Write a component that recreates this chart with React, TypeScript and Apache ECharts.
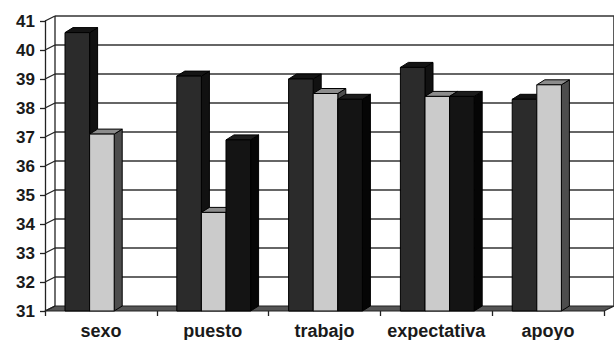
import React, { useEffect, useRef } from "react";
import * as echarts from "echarts";

const categories = ["sexo", "puesto", "trabajo", "expectativa", "apoyo"];
const series1 = [40.6, 39.1, 39.0, 39.4, 38.3];
const series2 = [37.1, 34.4, 38.5, 38.4, 38.8];
const series3: (number | null)[] = [null, 36.9, 38.3, 38.4, null];
const yMin = 31;
const yMax = 41;

const faceColors = [
  { front: "#2b2b2b", top: "#141414", side: "#111111" },
  { front: "#cbcbcb", top: "#8c8c8c", side: "#4d4d4d" },
  { front: "#141414", top: "#1c1c1c", side: "#050505" },
];

const WALL_DX = 10;
const WALL_DY = -5;
const BAR_DX = 8;
const BAR_DY = -5;

export default function App() {
  const ref = useRef<HTMLDivElement>(null);
  useEffect(() => {
    if (!ref.current) return;
    const chart = echarts.init(ref.current, undefined, { renderer: "svg" });

    const bgRender = (params: any, api: any) => {
      const cs = params.coordSys;
      const x0 = cs.x;
      const x1 = cs.x + cs.width;
      const children: any[] = [];
      const yBase = api.coord([0, yMin])[1];
      children.push({
        type: "polygon",
        shape: {
          points: [
            [x0, yBase],
            [x1, yBase],
            [x1 + WALL_DX, yBase + WALL_DY],
            [x0 + WALL_DX, yBase + WALL_DY],
          ],
        },
        style: { fill: "#555555", stroke: "#222222", lineWidth: 1.2 },
      });
      for (let v = yMin; v <= yMax; v++) {
        const y = api.coord([0, v])[1];
        if (v > yMin) {
          children.push({
            type: "line",
            shape: { x1: x0 + WALL_DX, y1: y + WALL_DY, x2: x1 + WALL_DX, y2: y + WALL_DY },
            style: { stroke: "#333333", lineWidth: 1.6 },
          });
        }
        children.push({
          type: "line",
          shape: { x1: x0, y1: y, x2: x0 + WALL_DX, y2: y + WALL_DY },
          style: { stroke: "#222222", lineWidth: 1.3 },
        });
      }
      const yTop = api.coord([0, yMax])[1];
      children.push({
        type: "line",
        shape: { x1: x0 + WALL_DX, y1: yBase + WALL_DY, x2: x0 + WALL_DX, y2: yTop + WALL_DY },
        style: { stroke: "#222222", lineWidth: 1.3 },
      });
      children.push({
        type: "line",
        shape: { x1: x1 + WALL_DX, y1: yBase + WALL_DY, x2: x1 + WALL_DX, y2: yTop + WALL_DY },
        style: { stroke: "#333333", lineWidth: 1.6 },
      });
      return { type: "group", children };
    };

    const barRender = (sIdx: number) => (params: any, api: any) => {
      const idx = api.value(0);
      const val = api.value(1);
      if (val == null || isNaN(val)) return { type: "group", children: [] };
      const band = api.size([1, 0])[0];
      const w = band * 0.22;
      const c = api.coord([idx, val]);
      const base = api.coord([idx, yMin]);
      const xl = c[0] + (sIdx - 1.5) * w + 1;
      const xr = xl + w;
      const yt = c[1];
      const yb = base[1];
      const col = faceColors[sIdx];
      return {
        type: "group",
        children: [
          {
            type: "polygon",
            shape: { points: [[xr, yt], [xr + BAR_DX, yt + BAR_DY], [xr + BAR_DX, yb + BAR_DY], [xr, yb]] },
            style: { fill: col.side, stroke: "#000", lineWidth: 1 },
          },
          {
            type: "polygon",
            shape: { points: [[xl, yt], [xl + BAR_DX, yt + BAR_DY], [xr + BAR_DX, yt + BAR_DY], [xr, yt]] },
            style: { fill: col.top, stroke: "#000", lineWidth: 1 },
          },
          {
            type: "rect",
            shape: { x: xl, y: yt, width: w, height: yb - yt },
            style: { fill: col.front, stroke: "#000", lineWidth: 1 },
          },
        ],
      };
    };

    const mk = (arr: (number | null)[]) => arr.map((v, i) => [i, v == null ? NaN : v]);

    chart.setOption({
      animation: false,
      backgroundColor: "#ffffff",
      grid: { left: 45, right: 10, top: 21, bottom: 29, containLabel: false },
      xAxis: {
        type: "category",
        data: categories,
        axisLine: { show: false },
        axisTick: { show: true, length: 5, interval: 0, lineStyle: { color: "#222", width: 1.3 } },
        axisLabel: {
          interval: 0,
          hideOverlap: false,
          margin: 11,
          fontSize: 18,
          fontWeight: "bold",
          fontFamily: "Liberation Sans, Arial, sans-serif",
          color: "#1a1a1a",
        },
        splitLine: { show: false },
      },
      yAxis: {
        type: "value",
        min: yMin,
        max: yMax,
        interval: 1,
        axisLine: { show: true, lineStyle: { color: "#222", width: 1.3 } },
        axisTick: { show: true, length: 5, lineStyle: { color: "#222", width: 1.3 } },
        axisLabel: {
          margin: 10,
          fontSize: 17,
          fontWeight: "bold",
          fontFamily: "Liberation Sans, Arial, sans-serif",
          color: "#1a1a1a",
        },
        splitLine: { show: false },
      },
      series: [
        {
          type: "custom",
          renderItem: bgRender,
          data: [[0, yMin]],
          clip: false,
          silent: true,
          z: 1,
        },
        { type: "custom", renderItem: barRender(0), data: mk(series1), encode: { x: 0, y: 1 }, clip: false, z: 2 },
        { type: "custom", renderItem: barRender(1), data: mk(series2), encode: { x: 0, y: 1 }, clip: false, z: 3 },
        { type: "custom", renderItem: barRender(2), data: mk(series3), encode: { x: 0, y: 1 }, clip: false, z: 4 },
      ],
    });
    return () => chart.dispose();
  }, []);
  return (
    <div
      ref={ref}
      style={{ position: "fixed", left: 0, top: 0, width: 614, height: 340, background: "#fff" }}
    />
  );
}
